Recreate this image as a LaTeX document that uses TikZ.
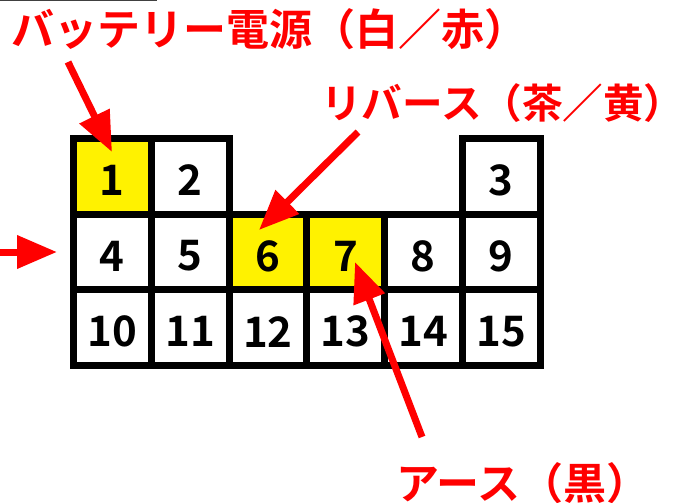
\documentclass[tikz,border=0pt]{standalone}
\usepackage{fontspec}
\newfontfamily\jp{Noto Sans CJK JP}[BoldFont={Noto Sans CJK JP Bold}]
\usetikzlibrary{arrows.meta}
\tikzset{
  cell/.style={draw=black, line width=7pt, minimum width=77.75pt, minimum height=75.67pt, inner sep=0pt, anchor=center},
  num/.style={font=\jp\bfseries\fontsize{42pt}{42pt}\selectfont, inner sep=0pt, text=black},
  lab/.style={text=red, font=\jp\bfseries\fontsize{43pt}{43pt}\selectfont, inner sep=0pt, anchor=west},
  arr/.style={draw=red, line width=7pt, -{Triangle[length=40pt, width=32pt]}}
}
\begin{document}
\begin{tikzpicture}[x=1pt, y=-1pt]
\useasboundingbox (0,0) rectangle (688,503);
\fill[white] (0,0) rectangle (688,503);
\draw[line width=1.5pt, black!75] (0,0.75) -- (157,0.75);
\foreach \n/\i/\j/\f in {1/0/0/yellow, 2/1/0/white, 3/5/0/white,
  4/0/1/white, 5/1/1/white, 6/2/1/yellow, 7/3/1/yellow, 8/4/1/white, 9/5/1/white,
  10/0/2/white, 11/1/2/white, 12/2/2/white, 13/3/2/white, 14/4/2/white, 15/5/2/white} {
  \node[cell, fill=\f] (c\n) at ({73.5+77.75*(\i+0.5)},{138.5+75.67*(\j+0.5)}) {};
  \node[num] (n\n) at ([yshift=-4pt]c\n.center) {\n};
}
\coordinate (a1s) at (68,62);
\coordinate (a1t) at (112,152);
\coordinate (a2s) at (358,132);
\coordinate (a2t) at (259,230);
\coordinate (a3s) at (422,437);
\coordinate (a3t) at (355,262);
\coordinate (a4s) at (0,252);
\coordinate (a4t) at (57,252);
\draw[arr] (a1s) -- (a1t);
\draw[arr] (a2s) -- (a2t);
\draw[arr] (a3s) -- (a3t);
\draw[arr] (a4s) -- (a4t);
\node[lab] (lbat) at (11,29) {バッテリー電源（白／赤）};
\node[lab, font=\jp\bfseries\fontsize{40.6pt}{40.6pt}\selectfont] (lrev) at (321,103) {リバース（茶／黄）};
\node[lab] (lgnd) at (396,483) {アース（黒）};
\end{tikzpicture}
\end{document}
